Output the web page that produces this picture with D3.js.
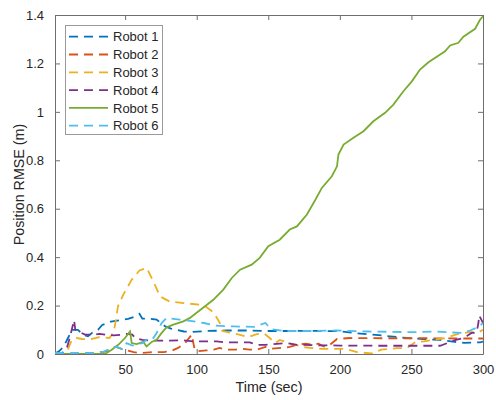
<!DOCTYPE html>
<html>
<head>
<script src="https://d3js.org/d3.v7.min.js"></script>
<style>
  body { margin: 0; background: #fff; }
  text { font-family: "Liberation Sans", Arial, sans-serif; fill: #262626; }
</style>
</head>
<body>
<svg id="chart" width="496" height="400"></svg>
<script>
const seriesNames = ["Robot 1", "Robot 2", "Robot 3", "Robot 4", "Robot 5", "Robot 6"];
const seriesColors = ["#0072BD", "#D95319", "#EDB120", "#7E2F8E", "#77AC30", "#4DBEEE"];
const seriesDashed = [true, true, true, true, false, true];

// time (sec) and position RMSE (m) per robot
const r1Time = [1, 4, 7, 10, 13, 17, 21, 24, 27, 31, 34, 40, 46, 52, 57, 60, 62, 67, 72, 78, 82, 86, 91, 97, 107, 121, 135, 150, 165, 180, 200, 211, 225, 235, 247, 260, 270, 279, 287, 298, 300];
const r1Rmse = [0.002, 0.012, 0.03, 0.065, 0.1, 0.1, 0.078, 0.073, 0.088, 0.1, 0.12, 0.134, 0.139, 0.145, 0.155, 0.166, 0.146, 0.146, 0.142, 0.114, 0.105, 0.1, 0.093, 0.091, 0.095, 0.097, 0.097, 0.095, 0.095, 0.096, 0.094, 0.086, 0.079, 0.073, 0.066, 0.061, 0.058, 0.051, 0.046, 0.048, 0.051];

const r2Time = [1, 10, 20, 30, 36, 40, 43, 47, 51, 56, 60, 67, 77, 82, 87, 92, 96.5, 98.5, 100, 107, 112, 116, 120, 127, 132, 137, 142, 148, 151, 159, 165, 170, 176, 181, 185, 189, 193, 198, 207, 230, 260, 280, 300];
const r2Rmse = [0, 0.002, 0.003, 0.004, 0.01, 0.018, 0.03, 0.022, 0.015, 0.008, 0.004, 0.007, 0.008, 0.012, 0.025, 0.046, 0.08, 0.02, 0.011, 0.015, 0.018, 0.025, 0.018, 0.018, 0.021, 0.018, 0.018, 0.029, 0.021, 0.025, 0.029, 0.038, 0.043, 0.038, 0.043, 0.031, 0.038, 0.062, 0.066, 0.065, 0.065, 0.064, 0.064];

const r3Time = [1, 8, 10, 12.7, 16, 20, 25, 32, 39, 42, 43.5, 45, 48.7, 54.6, 60, 65, 69.7, 74.4, 81, 91, 102, 106, 110, 113, 116, 118, 124, 131, 136, 142, 147, 151, 155, 158, 165, 175, 187, 204, 212, 222, 229, 240, 247, 253, 259, 267, 273, 282, 290, 297, 300];
const r3Rmse = [0, 0.002, 0.018, 0.058, 0.066, 0.062, 0.06, 0.07, 0.066, 0.09, 0.14, 0.197, 0.245, 0.307, 0.345, 0.356, 0.3, 0.238, 0.217, 0.21, 0.204, 0.197, 0.18, 0.16, 0.13, 0.095, 0.087, 0.078, 0.07, 0.082, 0.085, 0.066, 0.045, 0.058, 0.044, 0.028, 0.021, 0.021, 0.008, 0.002, 0.018, 0.024, 0.025, 0.05, 0.052, 0.06, 0.065, 0.082, 0.09, 0.09, 0.1];

const r4Time = [1, 6, 9, 10.3, 12.7, 14.3, 15.2, 17.3, 22, 29, 32, 36, 42, 48, 51, 55, 57, 62, 70, 78, 90, 97.6, 105, 114, 120, 137, 142, 148, 158, 163, 170, 185, 200, 230, 250, 270, 275, 281, 286, 289, 292, 295.5, 296.8, 297.3, 299, 300];
const r4Rmse = [0, 0.003, 0.02, 0.045, 0.1, 0.14, 0.1, 0.093, 0.08, 0.08, 0.083, 0.08, 0.077, 0.08, 0.083, 0.08, 0.066, 0.058, 0.055, 0.055, 0.057, 0.052, 0.052, 0.052, 0.048, 0.048, 0.038, 0.038, 0.043, 0.045, 0.038, 0.036, 0.035, 0.034, 0.034, 0.034, 0.045, 0.058, 0.066, 0.075, 0.087, 0.088, 0.128, 0.16, 0.14, 0.128];

const r5Time = [1, 36, 40.6, 45.2, 49.9, 53.4, 54.6, 58, 62.7, 65, 68.6, 72, 75.5, 79, 83.7, 90.7, 95.3, 98.8, 105.8, 111.6, 118.6, 124.5, 130.3, 138.4, 144, 150, 158, 165, 170, 177, 183, 187.4, 194.4, 198, 199, 202.6, 209.5, 216.5, 223.4, 231.6, 237.4, 244.4, 250.3, 256, 261.9, 273.5, 277, 282.8, 286.3, 294.5, 298, 300];
const r5Rmse = [0, 0, 0.018, 0.038, 0.066, 0.093, 0.045, 0.041, 0.05, 0.031, 0.05, 0.059, 0.087, 0.11, 0.121, 0.135, 0.149, 0.165, 0.197, 0.224, 0.266, 0.314, 0.348, 0.369, 0.397, 0.445, 0.472, 0.514, 0.527, 0.576, 0.638, 0.686, 0.734, 0.775, 0.824, 0.865, 0.893, 0.92, 0.961, 0.996, 1.03, 1.085, 1.126, 1.175, 1.205, 1.25, 1.274, 1.285, 1.31, 1.343, 1.381, 1.395];

const r6Time = [1, 10, 20, 30, 35, 40, 44, 48, 51, 55, 58, 62, 65, 69, 72, 75.5, 79, 88, 98, 105, 113, 126, 140, 148, 152, 161, 180, 197, 220, 253, 267, 278, 285, 291, 297, 300];
const r6Rmse = [0.005, 0.003, 0.005, 0.003, 0.01, 0.022, 0.03, 0.02, 0.045, 0.035, 0.04, 0.045, 0.059, 0.06, 0.087, 0.128, 0.149, 0.142, 0.135, 0.128, 0.117, 0.114, 0.112, 0.128, 0.103, 0.095, 0.095, 0.097, 0.093, 0.09, 0.093, 0.089, 0.087, 0.097, 0.112, 0.128];

const xTicks = [50, 100, 150, 200, 250, 300];
const yTicks = [0, 0.2, 0.4, 0.6, 0.8, 1, 1.2, 1.4];

const times = [r1Time, r2Time, r3Time, r4Time, r5Time, r6Time];
const rmses = [r1Rmse, r2Rmse, r3Rmse, r4Rmse, r5Rmse, r6Rmse];

const svg = d3.select("#chart");
const plotLeft = 55, plotRight = 483, plotTop = 15, plotBottom = 354;

const x = d3.scaleLinear().domain([1, 300]).range([plotLeft, plotRight]);
const y = d3.scaleLinear().domain([0, 1.4]).range([plotBottom, plotTop]);

svg.append("defs").append("clipPath").attr("id", "plotclip")
  .append("rect")
  .attr("x", plotLeft).attr("y", plotTop)
  .attr("width", plotRight - plotLeft).attr("height", plotBottom - plotTop);

// axes (ticks point inward, MATLAB style)
const axisColor = "#6e6e6e";
const xAxis = svg.append("g")
  .attr("transform", `translate(0,${plotBottom})`)
  .call(d3.axisBottom(x).tickValues(xTicks).tickSizeInner(-5).tickSizeOuter(0).tickPadding(11).tickFormat(d3.format("d")));
const yAxis = svg.append("g")
  .attr("transform", `translate(${plotLeft},0)`)
  .call(d3.axisLeft(y).tickValues(yTicks).tickSizeInner(-5).tickSizeOuter(0).tickPadding(11).tickFormat(d3.format("~g")));
const xTop = svg.append("g")
  .attr("transform", `translate(0,${plotTop})`)
  .call(d3.axisTop(x).tickValues(xTicks).tickSizeInner(-5).tickSizeOuter(0).tickFormat(""));
const yRight = svg.append("g")
  .attr("transform", `translate(${plotRight},0)`)
  .call(d3.axisRight(y).tickValues(yTicks).tickSizeInner(-5).tickSizeOuter(0).tickFormat(""));

[xAxis, yAxis, xTop, yRight].forEach(g => {
  g.selectAll("path, line").attr("stroke", axisColor);
  g.selectAll("text").attr("font-size", 13).attr("fill", "#262626")
    .attr("font-family", "'Liberation Sans', Arial, sans-serif");
});

// series
const line = d3.line().x(d => x(d[0])).y(d => y(d[1]));
const plot = svg.append("g").attr("clip-path", "url(#plotclip)");
seriesNames.forEach((name, i) => {
  const pts = times[i].map((t, j) => [t, rmses[i][j]]);
  plot.append("path")
    .datum(pts)
    .attr("fill", "none")
    .attr("stroke", seriesColors[i])
    .attr("stroke-width", 1.8)
    .attr("stroke-dasharray", seriesDashed[i] ? "9,6" : null)
    .attr("d", line);
});

// axis labels
svg.append("text")
  .attr("x", (plotLeft + plotRight) / 2)
  .attr("y", 392)
  .attr("text-anchor", "middle")
  .attr("font-size", 14.3)
  .text("Time (sec)");

svg.append("text")
  .attr("transform", `translate(24,${(plotTop + plotBottom) / 2}) rotate(-90)`)
  .attr("text-anchor", "middle")
  .attr("font-size", 14.3)
  .text("Position RMSE (m)");

// legend
const legend = svg.append("g");
legend.append("rect")
  .attr("x", 65.5).attr("y", 25.5)
  .attr("width", 97).attr("height", 109)
  .attr("fill", "#fff")
  .attr("stroke", "#9a9a9a")
  .attr("stroke-width", 1);

seriesNames.forEach((name, i) => {
  const ly = 36.7 + i * 17.8;
  legend.append("line")
    .attr("x1", 69).attr("x2", 108)
    .attr("y1", ly).attr("y2", ly)
    .attr("stroke", seriesColors[i])
    .attr("stroke-width", 1.8)
    .attr("stroke-dasharray", seriesDashed[i] ? "9,6" : null);
  legend.append("text")
    .attr("x", 113)
    .attr("y", ly + 4.6)
    .attr("font-size", 13)
    .text(name);
});
</script>
</body>
</html>
